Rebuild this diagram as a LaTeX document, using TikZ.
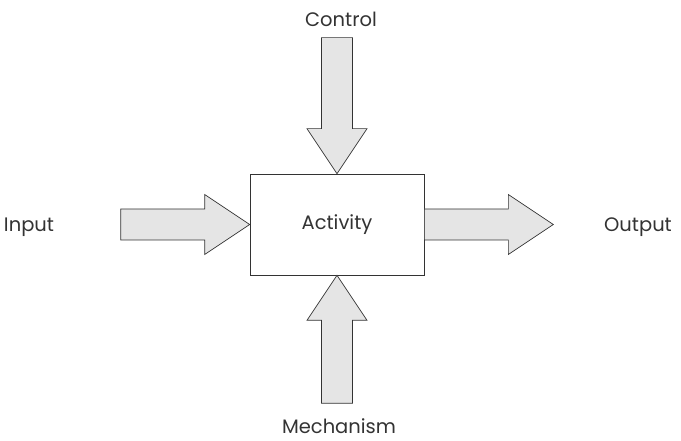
\documentclass[tikz,border=0pt]{standalone}
\usepackage{fontspec}
\setmainfont{Poppins}
\usetikzlibrary{calc}

\begin{document}
\begin{tikzpicture}[x=1pt,y=1pt,
        box/.style={draw=black!80, line width=0.7pt, minimum width=174pt, minimum height=101pt, inner sep=0pt},
        bigarrow/.style={draw=black!80, line width=0.7pt, fill=black!10, line join=miter},
        lbl/.style={font=\fontsize{19.5}{22}\selectfont, text=black!80, inner sep=0pt}]
        \useasboundingbox (0,0) rectangle (681,441);
        % activity box
        \node[box, lbl] (act) at (337,216.5) {Activity};
        \coordinate (outtip) at ([xshift=129pt]act.east);
        % block arrows, tip at origin, pointing along +x
        \foreach \tip/\ang/\len in {act.west/0/129, outtip/0/129, act.north/-90/136, act.south/90/128}
        \draw[bigarrow, shift={(\tip)}, rotate=\ang] (0,0) -- (-45,30) -- (-45,15.5) -- (-\len,15.5)
                -- (-\len,-15.5) -- (-45,-15.5) -- (-45,-30) -- cycle;
        % labels
        \node[lbl, anchor=base] (inp) at (29,209) {Input};
        \node[lbl, anchor=base] (outp) at (638,209) {Output};
        \node[lbl, anchor=base] (ctrl) at (341,414) {Control};
        \node[lbl, anchor=base] (mech) at (339,7) {Mechanism};
\end{tikzpicture}
\end{document}
